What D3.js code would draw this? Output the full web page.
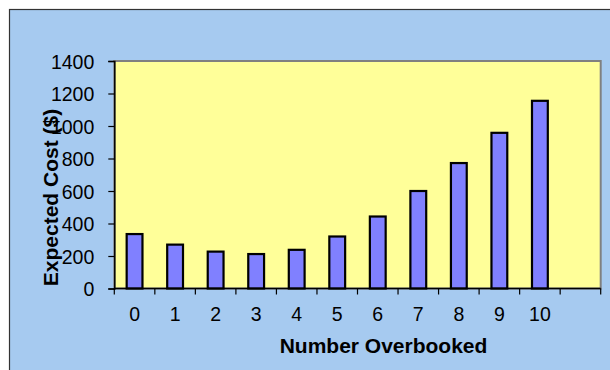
<!DOCTYPE html>
<html>
<head>
<meta charset="utf-8">
<script src="https://cdn.jsdelivr.net/npm/d3@7"></script>
<style>
  html, body { margin: 0; padding: 0; background: #fff; }
  svg { display: block; }
  text { font-family: "Liberation Sans", Arial, sans-serif; fill: #000; }
</style>
</head>
<body>
<svg id="chart" width="610" height="370"></svg>
<script>
// Expected cost of overbooking, by number of seats overbooked
const categories = ["0", "1", "2", "3", "4", "5", "6", "7", "8", "9", "10"];
const expectedCost = [335, 270, 227, 212, 238, 320, 443, 600, 772, 958, 1155];
const yTicks = [0, 200, 400, 600, 800, 1000, 1200, 1400];
const xTitle = "Number Overbooked";
const yTitle = "Expected Cost ($)";

const svg = d3.select("#chart");
const W = 610, H = 370;
const plot = { left: 114.3, right: 600.7, top: 61, bottom: 288.5 };

// outer chart area
svg.append("rect").attr("width", W).attr("height", H).attr("fill", "#fff");
svg.append("rect")
  .attr("x", 9.5).attr("y", 9.5)
  .attr("width", W + 10).attr("height", H + 10)
  .attr("fill", "#A6CAF0")
  .attr("stroke", "#333").attr("stroke-width", 1.2);

// one empty slot after the last category
const slots = categories.concat([" "]);
const x = d3.scaleBand().domain(slots).range([plot.left, plot.right]).padding(0);
const y = d3.scaleLinear().domain([0, 1400]).range([plot.bottom, plot.top]);

// plot area
svg.append("rect")
  .attr("x", plot.left).attr("y", plot.top)
  .attr("width", plot.right - plot.left).attr("height", plot.bottom - plot.top)
  .attr("fill", "#FFFF99")
  .attr("stroke", "#808080").attr("stroke-width", 2);

// bars
const barW = x.bandwidth() * 0.39;
svg.append("g").selectAll("rect")
  .data(categories.map((c, i) => ({ c, v: expectedCost[i] })))
  .join("rect")
  .attr("x", d => x(d.c) + (x.bandwidth() - barW) / 2)
  .attr("y", d => y(d.v))
  .attr("width", barW)
  .attr("height", d => y(0) - y(d.v))
  .attr("fill", "#8080FF")
  .attr("stroke", "#000")
  .attr("stroke-width", 2.2);

// y axis
const yAxis = d3.axisLeft(y).tickValues(yTicks).tickSize(6).tickPadding(14).tickFormat(d3.format("d"));
const gy = svg.append("g").attr("transform", `translate(${plot.left},0)`).call(yAxis);
gy.select(".domain").attr("stroke", "#000").attr("stroke-width", 1.5);
gy.selectAll(".tick line").attr("stroke", "#000").attr("stroke-width", 1.2);
gy.selectAll(".tick text")
  .style("font-family", "'Liberation Sans', Arial, sans-serif")
  .style("font-size", "19.5px").attr("fill", "#000").attr("dy", "0.36em");

// x axis: ticks sit on slot boundaries, labels in slot centres
const gx = svg.append("g").attr("transform", `translate(0,${plot.bottom})`);
gx.append("line")
  .attr("x1", plot.left).attr("x2", plot.right)
  .attr("stroke", "#000").attr("stroke-width", 1.5);
const bounds = slots.map(s => x(s)).concat([plot.right]);
gx.selectAll("line.tk").data(bounds).join("line")
  .attr("class", "tk")
  .attr("x1", d => d).attr("x2", d => d)
  .attr("y1", 0).attr("y2", 6)
  .attr("stroke", "#000").attr("stroke-width", 1.2);
gx.selectAll("text").data(categories).join("text")
  .attr("x", d => x(d) + x.bandwidth() / 2)
  .attr("y", 32.3)
  .attr("text-anchor", "middle")
  .style("font-size", "19.5px")
  .text(d => d);

// axis titles
svg.append("text")
  .attr("x", 383.5).attr("y", 352.8)
  .attr("text-anchor", "middle")
  .style("font-size", "21px").style("font-weight", "bold")
  .text(xTitle);

svg.append("text")
  .attr("transform", "translate(57.5,197.5) rotate(-90)")
  .attr("text-anchor", "middle")
  .style("font-size", "21px").style("font-weight", "bold")
  .text(yTitle);
</script>
</body>
</html>
